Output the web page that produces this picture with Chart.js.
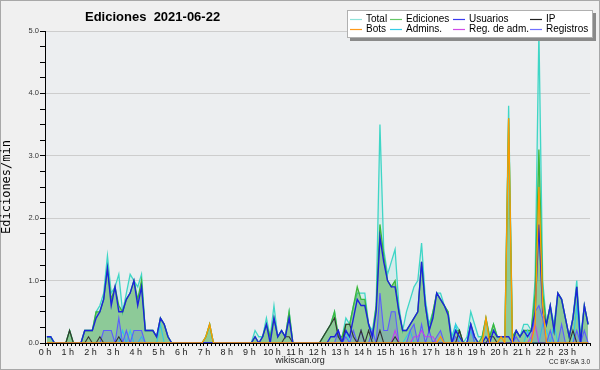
<!DOCTYPE html>
<html lang="es">
<head>
  <meta charset="UTF-8">
  <title>Ediciones 2021-06-22</title>
  <script src="https://cdn.jsdelivr.net/npm/chart.js"></script>
  <style>
    html, body { margin: 0; padding: 0; background: #f0f0f0; }
    #wrap { width: 600px; height: 370px; }
  </style>
</head>
<body>
  <div id="wrap"><canvas id="chart" width="600" height="370"></canvas></div>

  <script>
    // tick labels (one per hour) and y labels
    const horas = ['0 h','1 h','2 h','3 h','4 h','5 h','6 h','7 h','8 h','9 h','10 h','11 h',
                   '12 h','13 h','14 h','15 h','16 h','17 h','18 h','19 h','20 h','21 h','22 h','23 h'];
    const yLabels = ['0.0','1.0','2.0','3.0','4.0','5.0'];

    // edits per minute, one value per 10 minutes (6 per hour, 24 rows)
    const total = [
      0.1,0.1,0,0,0,0,   0.2,0,0,0,0.2,0.2,   0.2,0.5,0.6,0.8,1.4,0.8,   0.9,1.1,0.5,0.8,1.1,1.0,
      0.9,1.1,0.2,0.2,0.2,0.1,   0.4,0.3,0.1,0,0,0,   0,0,0,0,0,0,   0.1,0.3,0,0,0,0,
      0,0,0,0,0,0,   0,0.2,0.1,0.1,0.4,0.1,   0.6,0.1,0.2,0.1,0.5,0,   0,0,0,0,0,0,
      0,0.1,0.2,0.3,0.5,0.1,   0.1,0.4,0.3,0.6,0.8,0.8,   0.8,0.3,0.2,0.6,3.5,1.5,   1.1,1.3,1.5,0.6,0.2,0.5,
      0.7,0.9,1.0,1.6,0.7,0.3,   0.5,0.8,0.8,0.6,0.5,0.1,   0.3,0.2,0,0.1,0.5,0.3,   0.1,0.1,0.4,0.1,0.3,0.1,
      0.1,0.1,3.8,0.1,0.2,0.1,   0.3,0.3,0.2,1.0,5.0,1.0,   0.3,0.6,0.3,0.8,0.7,0.4,   0.1,0.4,1.0,0.1,0.6,0.3
    ];
    const ediciones = [
      0.1,0.1,0,0,0,0,   0.2,0,0,0,0.2,0.2,   0.2,0.5,0.5,0.7,1.2,0.7,   0.9,0.6,0.5,0.7,0.8,1.0,
      0.7,1.0,0.2,0.2,0.2,0.1,   0.4,0.3,0.1,0,0,0,   0,0,0,0,0,0,   0.1,0.3,0,0,0,0,
      0,0,0,0,0,0,   0,0.1,0,0.1,0.3,0.1,   0.4,0.1,0.2,0.1,0.5,0,   0,0,0,0,0,0,
      0,0.1,0.2,0.3,0.5,0.1,   0.1,0.3,0.3,0.6,0.9,0.7,   0.7,0.3,0.1,0.6,1.9,1.4,   1.0,0.9,1.0,0.5,0.2,0.2,
      0.3,0.4,0.5,1.3,0.6,0.2,   0.5,0.8,0.7,0.6,0.5,0,   0.2,0.2,0,0,0.3,0.1,   0,0.1,0.4,0.1,0.3,0.1,
      0.1,0.1,3.6,0.1,0.2,0.1,   0.2,0.2,0.2,0.8,3.1,0.8,   0.3,0.6,0.2,0.8,0.7,0.4,   0.1,0.4,0.9,0,0.6,0.3
    ];
    const usuarios = [
      0.1,0.1,0,0,0,0,   0,0,0,0,0.2,0.2,   0.2,0.4,0.5,0.7,1.2,0.6,   0.9,0.5,0.5,0.7,0.8,1.0,
      0.6,0.9,0.2,0.2,0.2,0.1,   0.4,0.3,0.1,0,0,0,   0,0,0,0,0,0,   0,0,0,0,0,0,
      0,0,0,0,0,0,   0,0.1,0,0.1,0.3,0,   0.4,0.1,0.2,0.1,0.4,0,   0,0,0,0,0,0,
      0,0,0,0.1,0.1,0.2,   0,0.2,0.1,0.4,0.7,0.6,   0.6,0.3,0.1,0.5,1.7,1.3,   1.0,0.9,0.9,0.5,0.2,0.2,
      0.3,0.4,0.5,1.3,0.6,0.2,   0.4,0.8,0.7,0.6,0.45,0,   0.2,0.1,0,0,0.3,0.1,   0,0,0.1,0,0.2,0.1,
      0.1,0.1,0.1,0,0.2,0.1,   0.2,0.1,0.2,0.5,1.9,0.5,   0.3,0.6,0.2,0.8,0.7,0.4,   0.1,0.4,0.9,0,0.6,0.3
    ];
    const ip = [
      0,0,0,0,0,0,   0.2,0,0,0,0,0.1,   0,0,0.1,0,0,0,   0,0.1,0,0,0,0,
      0,0,0,0,0,0,   0,0,0,0,0,0,   0,0,0,0,0,0,   0,0,0,0,0,0,
      0,0,0,0,0,0,   0,0,0,0,0,0,   0,0,0,0.1,0.1,0,   0,0,0,0,0,0,
      0,0.1,0.2,0.3,0.4,0.1,   0,0.3,0.3,0.1,0,0.2,   0,0.2,0,0,0.2,0,   0,0,0.1,0,0,0,
      0,0,0,0,0,0,   0,0,0,0,0,0,   0,0.2,0,0,0,0,   0,0,0,0.1,0.1,0,
      0,0,0,0,0,0,   0,0,0,0,0,0,   0,0,0,0,0,0,   0,0.2,0,0,0,0
    ];
    const bots = [
      0,0,0,0,0,0,   0,0,0,0,0,0,   0,0,0,0,0,0,   0,0,0,0,0,0,
      0,0,0,0,0,0,   0,0,0,0,0,0,   0,0,0,0,0,0,   0.1,0.3,0,0,0,0,
      0,0,0,0,0,0,   0,0,0,0,0,0,   0,0,0,0,0,0,   0,0,0,0,0,0,
      0,0,0,0,0,0,   0,0,0,0,0,0,   0,0,0,0,0,0,   0,0,0,0,0,0,
      0,0,0,0,0,0,   0,0,0.1,0,0,0,   0,0,0,0,0,0,   0,0,0.4,0,0,0,
      0.1,0,3.6,0,0,0,   0,0,0,0.3,2.5,0.6,   0,0,0,0,0,0,   0,0,0,0,0,0
    ];
    const admins = [
      0.1,0.1,0,0,0,0,   0,0,0,0,0,0,   0,0,0,0,0,0,   0,0,0.2,0,0.2,0,
      0,0.1,0,0,0,0,   0.3,0,0,0,0,0,   0,0,0,0,0,0,   0,0,0,0,0,0,
      0,0,0,0,0,0,   0,0,0,0,0,0,   0,0,0,0,0,0,   0,0,0,0,0,0,
      0,0,0,0,0,0,   0,0.2,0,0,0,0,   0,0,0,0,0,0,   0,0,0,0,0,0.1,
      0.2,0,0,0,0,0,   0,0,0,0,0,0,   0.3,0,0,0,0.2,0,   0,0,0,0,0,0,
      0,0,0,0,0,0,   0,0.2,0,0,0,0.3,   0.2,0,0.3,0,0,0,   0,0,0.6,0,0,0
    ];
    const regAdm = [
      0,0,0,0,0,0,   0,0,0,0,0,0,   0,0,0,0,0,0,   0,0,0,0,0,0,
      0,0,0,0,0,0,   0,0,0,0,0,0,   0,0,0,0,0,0,   0,0,0,0,0,0,
      0,0,0,0,0,0,   0,0,0,0,0,0,   0,0,0,0,0,0,   0,0,0,0,0,0,
      0,0,0,0,0,0,   0,0,0,0,0,0,   0,0,0,0,0,0,   0,0,0.2,0,0,0,
      0,0.1,0.1,0.2,0.1,0.1,   0.1,0,0,0,0,0,   0,0,0,0,0,0,   0,0,0,0,0,0,
      0,0,0,0,0,0,   0,0,0.1,0.3,0,0,   0,0,0,0,0,0,   0,0,0,0,0,0
    ];
    const registros = [
      0,0,0,0,0,0,   0,0,0,0,0,0,   0,0,0,0.2,0.2,0.2,   0,0.4,0,0.2,0,0.2,
      0.2,0.2,0,0,0,0,   0,0,0,0,0,0,   0,0,0,0,0,0,   0,0,0,0,0,0,
      0,0,0,0,0,0,   0,0,0,0,0,0,   0,0,0,0,0,0,   0,0,0,0,0,0,
      0,0,0,0,0,0.2,   0,0.1,0,0.2,0,0.2,   0,0,0.2,0,0.8,0.2,   0.2,0.5,0.5,0,0,0,
      0.2,0.3,0,0.3,0,0.2,   0,0.1,0.2,0,0,0,   0.1,0,0,0,0.3,0,   0,0,0,0,0,0,
      0,0,0,0,0.1,0,   0,0,0,0.5,0.6,0.4,   0,0.2,0,0,0.3,0,   0,0,0.2,0,0.2,0
    ];

    // points sit in the middle of each 10 minute slot
    function pts(arr) {
      return arr.map((v, i) => ({ x: i + 0.5, y: v }));
    }

    const series = [
      { label: 'Total',        data: total,     color: '#3fd6c6', legend: '#8fe3da', fill: 'rgba(64,214,198,0.13)', order: 9, width: 1.3 },
      { label: 'Ediciones',    data: ediciones, color: '#3cb83c', legend: '#66c766', fill: 'rgba(60,165,60,0.47)', order: 8, width: 1.3 },
      { label: 'Usuarios',     data: usuarios,  color: '#1c22dc', legend: '#3a3af0', fill: false, order: 2, width: 1.4 },
      { label: 'IP',           data: ip,        color: '#333333', legend: '#222222', fill: false, order: 3, width: 1.1 },
      { label: 'Bots',         data: bots,      color: '#ff9a00', legend: '#ff9a1a', fill: false, order: 1, width: 1.3 },
      { label: 'Admins.',      data: admins,    color: '#2ccbe6', legend: '#35cde6', fill: false, order: 6, width: 1.1 },
      { label: 'Reg. de adm.', data: regAdm,    color: '#c23cf0', legend: '#d04ae8', fill: false, order: 4, width: 1.1 },
      { label: 'Registros',    data: registros, color: '#5c5cff', legend: '#7070ff', fill: 'rgba(90,90,240,0.18)', order: 5, width: 1.1 }
    ];

    // backgrounds, title, legend box, footer
    const decor = {
      id: 'decor',
      beforeDraw(chart) {
        const ctx = chart.ctx, a = chart.chartArea;
        ctx.save();
        ctx.fillStyle = '#f0f0f0';
        ctx.fillRect(0, 0, chart.width, chart.height);
        ctx.fillStyle = '#eceef0';
        ctx.fillRect(a.left, a.top, a.right - a.left, a.bottom - a.top);
        ctx.strokeStyle = '#a8a8a8';
        ctx.lineWidth = 1;
        ctx.strokeRect(0.5, 0.5, chart.width - 1, chart.height - 1);
        ctx.restore();
      },
      afterDatasetsDraw(chart) {
        // axis lines go over the zero-valued lines
        const ctx = chart.ctx, a = chart.chartArea;
        ctx.save();
        ctx.strokeStyle = '#000';
        ctx.lineWidth = 1;
        ctx.beginPath();
        ctx.moveTo(a.left, Math.round(a.bottom) + 0.5);
        ctx.lineTo(a.right, Math.round(a.bottom) + 0.5);
        ctx.moveTo(Math.round(a.left) + 0.5, a.top);
        ctx.lineTo(Math.round(a.left) + 0.5, a.bottom);
        ctx.stroke();
        ctx.restore();
      },
      afterDraw(chart) {
        const ctx = chart.ctx;
        ctx.save();
        ctx.fillStyle = '#000';
        ctx.textBaseline = 'middle';
        ctx.font = 'bold 13px "Liberation Sans"';
        ctx.fillText('Ediciones  2021-06-22', 85, 17);

        // legend box with shadow
        const bx = 347, by = 10, bw = 246, bh = 28;
        ctx.fillStyle = '#8a8a8a';
        ctx.fillRect(bx + 3, by + 3, bw, bh);
        ctx.fillStyle = '#ffffff';
        ctx.fillRect(bx, by, bw, bh);
        ctx.strokeStyle = '#b0b0b0';
        ctx.strokeRect(bx + 0.5, by + 0.5, bw - 1, bh - 1);
        const cols = [350, 390, 453, 530];
        ctx.font = '10px "Liberation Sans"';
        series.forEach((s, k) => {
          const x = cols[k % 4], y = k < 4 ? 19 : 29;
          ctx.strokeStyle = s.legend;
          ctx.lineWidth = 1.2;
          ctx.beginPath();
          ctx.moveTo(x, y + 0.5);
          ctx.lineTo(x + 12, y + 0.5);
          ctx.stroke();
          ctx.fillStyle = '#000';
          ctx.fillText(s.label, x + 16, y + 0.5);
        });

        ctx.fillStyle = '#222';
        ctx.textAlign = 'center';
        ctx.font = '9px "Liberation Sans"';
        ctx.fillText('wikiscan.org', 300, 361);
        ctx.textAlign = 'right';
        ctx.font = '6.5px "Liberation Sans"';
        ctx.fillText('CC BY-SA 3.0', 590, 362);
        ctx.restore();
      }
    };

    const xTicks = [];
    for (let i = 0; i <= 144; i++) xTicks.push(i);
    const yTicks = [];
    for (let i = 0; i <= 20; i++) yTicks.push(i / 4);

    new Chart(document.getElementById('chart'), {
      type: 'line',
      data: {
        datasets: series.map(s => ({
          label: s.label,
          data: pts(s.data),
          borderColor: s.color,
          backgroundColor: s.fill || 'transparent',
          fill: s.fill ? 'origin' : false,
          borderWidth: s.width,
          pointRadius: 0,
          tension: 0,
          order: s.order
        }))
      },
      options: {
        responsive: false,
        animation: false,
        devicePixelRatio: 1,
        layout: { padding: { top: 31, right: 10, bottom: 11, left: 0 } },
        plugins: { legend: { display: false }, title: { display: false }, tooltip: { enabled: false } },
        scales: {
          x: {
            type: 'linear', min: 0, max: 144,
            border: { color: '#000', width: 1 },
            grid: { drawOnChartArea: false, drawTicks: true, tickLength: 3, tickColor: '#000' },
            afterBuildTicks: s => { s.ticks = xTicks.map(v => ({ value: v })); },
            afterFit: s => { s.height = 16; },
            ticks: {
              autoSkip: false, maxRotation: 0, padding: 1, color: '#222',
              font: { family: 'Liberation Sans', size: 9 },
              callback: v => (v % 6 === 0 && v < 144) ? horas[v / 6] : ''
            }
          },
          y: {
            min: 0, max: 5,
            border: { color: '#000', width: 1 },
            grid: {
              color: c => (c.tick && c.tick.value > 0 && c.tick.value % 1 === 0) ? '#cdcdcd' : 'rgba(0,0,0,0)',
              tickColor: '#000', tickLength: 5, drawTicks: true
            },
            afterBuildTicks: s => { s.ticks = yTicks.map(v => ({ value: v })); },
            afterFit: s => { s.width = 45; },
            ticks: {
              autoSkip: false, padding: 1, color: '#333',
              font: { family: 'Liberation Sans', size: 7.5 },
              callback: v => v % 1 === 0 ? yLabels[v] : ''
            },
            title: {
              display: true, text: 'Ediciones/min', color: '#000', padding: 0,
              font: { family: 'DejaVu Sans Mono', size: 12 }
            }
          }
        }
      },
      plugins: [decor]
    });
  </script>
</body>
</html>
